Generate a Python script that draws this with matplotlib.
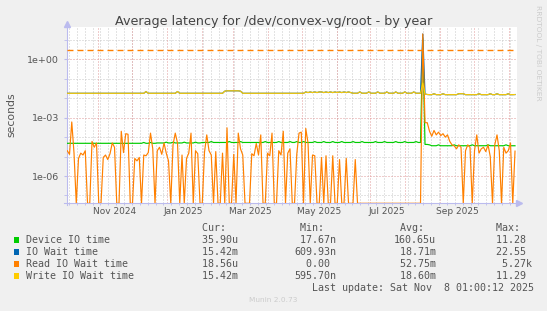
import numpy as np
import matplotlib
matplotlib.use("Agg")
import matplotlib.pyplot as plt
import matplotlib.dates as mdates
from matplotlib.ticker import LogLocator, FuncFormatter, NullFormatter
from matplotlib.patches import Rectangle

# one sample every 2 days, first at 2024-10-04 13:00
t = np.datetime64('2024-10-04T13:00') + np.arange(200) * np.timedelta64(2, 'D')

device_io = [
    4.8e-5, 4.8e-5, 4.8e-5, 4.8e-5, 4.8e-5, 4.8e-5, 4.8e-5, 4.8e-5, 4.8e-5, 4.8e-5,
    4.8e-5, 4.8e-5, 4.8e-5, 4.8e-5, 4.8e-5, 4.8e-5, 4.8e-5, 4.8e-5, 4.8e-5, 4.8e-5,
    4.8e-5, 4.8e-5, 4.8e-5, 4.8e-5, 4.8e-5, 4.8e-5, 4.8e-5, 4.8e-5, 4.8e-5, 4.8e-5,
    4.8e-5, 4.8e-5, 4.8e-5, 4.8e-5, 5.3e-5, 4.8e-5, 4.8e-5, 5.3e-5, 4.8e-5, 4.8e-5,
    5.0e-5, 5.0e-5, 5.0e-5, 5.0e-5, 5.5e-5, 5.0e-5, 5.0e-5, 5.5e-5, 5.0e-5, 5.0e-5,
    5.0e-5, 5.0e-5, 5.5e-5, 5.0e-5, 5.0e-5, 5.0e-5, 5.0e-5, 5.5e-5, 5.0e-5, 5.0e-5,
    5.3e-5, 5.3e-5, 5.3e-5, 5.3e-5, 5.9e-5, 5.3e-5, 5.3e-5, 5.3e-5, 5.3e-5, 5.3e-5,
    5.3e-5, 5.3e-5, 5.9e-5, 5.3e-5, 5.3e-5, 5.3e-5, 5.3e-5, 5.9e-5, 5.3e-5, 5.3e-5,
    5.3e-5, 5.3e-5, 5.3e-5, 5.3e-5, 5.3e-5, 5.3e-5, 5.3e-5, 5.3e-5, 5.9e-5, 5.3e-5,
    5.3e-5, 5.3e-5, 5.3e-5, 5.3e-5, 5.9e-5, 5.3e-5, 5.3e-5, 5.3e-5, 5.3e-5, 5.9e-5,
    5.3e-5, 5.3e-5, 5.9e-5, 5.3e-5, 5.3e-5, 5.9e-5, 5.3e-5, 5.3e-5, 5.3e-5, 5.3e-5,
    5.9e-5, 5.3e-5, 5.3e-5, 5.3e-5, 5.9e-5, 5.3e-5, 5.3e-5, 5.3e-5, 5.9e-5, 5.3e-5,
    5.3e-5, 5.3e-5, 5.9e-5, 5.3e-5, 5.3e-5, 5.3e-5, 5.3e-5, 5.9e-5, 5.3e-5, 5.3e-5,
    5.3e-5, 5.9e-5, 5.3e-5, 5.3e-5, 5.3e-5, 5.3e-5, 5.3e-5, 5.9e-5, 5.3e-5, 5.3e-5,
    5.3e-5, 5.9e-5, 5.3e-5, 5.3e-5, 5.3e-5, 5.3e-5, 5.9e-5, 5.3e-5, 5.3e-5, 5.3e-5,
    5.9e-5, 5.3e-5, 5.3e-5, 5.3e-5, 5.3e-5, 5.9e-5, 5.3e-5, 5.3e-5, 11.28, 4.2e-5,
    4.2e-5, 4.0e-5, 3.6e-5, 3.6e-5, 3.6e-5, 4.0e-5, 3.6e-5, 3.6e-5, 3.6e-5, 3.6e-5,
    3.6e-5, 3.6e-5, 4.0e-5, 3.6e-5, 3.6e-5, 3.6e-5, 3.6e-5, 3.6e-5, 3.6e-5, 3.6e-5,
    4.0e-5, 3.6e-5, 3.6e-5, 3.6e-5, 3.6e-5, 3.6e-5, 3.6e-5, 4.0e-5, 3.6e-5, 3.6e-5,
    3.6e-5, 3.6e-5, 3.6e-5, 3.6e-5, 3.6e-5, 4.0e-5, 3.6e-5, 3.6e-5, 3.6e-5, 3.59e-5,
]

io_wait = [
    0.0179, 0.0179, 0.0179, 0.0179, 0.0179, 0.0179, 0.0179, 0.0179, 0.0179, 0.0179,
    0.0179, 0.0179, 0.0179, 0.0179, 0.0179, 0.0179, 0.0179, 0.0179, 0.0179, 0.0179,
    0.0179, 0.0179, 0.0179, 0.0179, 0.0179, 0.0179, 0.0179, 0.0179, 0.0179, 0.0179,
    0.0179, 0.0179, 0.0179, 0.0179, 0.0179, 0.022, 0.0179, 0.0179, 0.0179, 0.0179,
    0.0179, 0.0179, 0.0179, 0.0179, 0.0179, 0.0179, 0.0179, 0.0179, 0.0179, 0.022,
    0.0179, 0.0179, 0.0179, 0.0179, 0.0179, 0.0179, 0.0179, 0.0179, 0.0179, 0.0179,
    0.0179, 0.0179, 0.0179, 0.0179, 0.0179, 0.0179, 0.0179, 0.0179, 0.0179, 0.0179,
    0.023, 0.024, 0.024, 0.024, 0.024, 0.024, 0.024, 0.023, 0.0179, 0.0179,
    0.0179, 0.0179, 0.0179, 0.0179, 0.0179, 0.0179, 0.0179, 0.0179, 0.0179, 0.0179,
    0.0179, 0.0179, 0.0179, 0.0179, 0.0179, 0.0179, 0.0179, 0.0179, 0.0179, 0.0179,
    0.0179, 0.0179, 0.0179, 0.0179, 0.0179, 0.0179, 0.021, 0.0195, 0.021, 0.0195,
    0.021, 0.0195, 0.021, 0.021, 0.0195, 0.021, 0.0195, 0.021, 0.0195, 0.021,
    0.0195, 0.021, 0.0195, 0.021, 0.0195, 0.021, 0.0195, 0.018, 0.018, 0.018,
    0.021, 0.018, 0.018, 0.018, 0.021, 0.018, 0.018, 0.018, 0.021, 0.018,
    0.018, 0.018, 0.021, 0.018, 0.018, 0.018, 0.021, 0.018, 0.018, 0.018,
    0.021, 0.018, 0.018, 0.018, 0.021, 0.018, 0.018, 0.018, 20.0, 0.0165,
    0.0155, 0.0152, 0.0152, 0.017, 0.0152, 0.0152, 0.0152, 0.017, 0.0152, 0.0152,
    0.0152, 0.0152, 0.0152, 0.0152, 0.017, 0.017, 0.017, 0.0152, 0.0152, 0.0152,
    0.0152, 0.0152, 0.0152, 0.017, 0.0152, 0.0152, 0.0152, 0.0152, 0.017, 0.0152,
    0.0152, 0.017, 0.0152, 0.0152, 0.0152, 0.0152, 0.017, 0.0152, 0.0152, 0.01542,
]

read_wait = [
    2.0e-5, 1.3e-5, 6.0e-4, 1.5e-5, 0, 8e-6, 1.5e-5, 1.2e-5, 2.0e-5, 0,
    0, 6e-5, 3e-5, 5e-5, 0, 0, 9e-6, 1.2e-5, 7e-6, 1.4e-5,
    5e-5, 3e-5, 0, 0, 2e-4, 1.6e-5, 1.5e-4, 1.4e-4, 0, 0,
    8e-6, 6e-6, 9e-6, 0, 1.2e-5, 1.1e-5, 1.6e-5, 1.6e-4, 2.5e-5, 0,
    2.0e-5, 3e-5, 1.3e-5, 5e-5, 1.5e-5, 6e-6, 0, 4e-5, 1.6e-4, 5e-5,
    0, 1.2e-5, 0, 8e-6, 1.5e-5, 1.6e-4, 0, 2e-5, 1.4e-5, 0,
    0, 1.7e-5, 1.3e-4, 2e-5, 1.2e-5, 0, 1.8e-5, 0, 0, 1.5e-5,
    0, 3e-4, 0, 0, 1.3e-5, 0, 1.6e-4, 2.5e-5, 1.2e-5, 0,
    0, 0, 1.4e-5, 1.1e-5, 4.7e-5, 1.2e-5, 1.3e-4, 0, 0, 1.5e-5,
    1.1e-5, 1.6e-4, 0, 0, 2e-5, 1.2e-5, 2e-4, 0, 1.5e-5, 2.5e-5,
    0, 0, 1.3e-5, 1.6e-4, 1.8e-4, 0, 2.8e-4, 5e-5, 0, 1.2e-5,
    1.1e-5, 0, 0, 9e-6, 0, 1.1e-5, 0, 0, 1.1e-5, 0,
    0, 7e-6, 0, 0, 8e-6, 0, 0, 0, 7e-6, 0,
    0, 0, 0, 0, 0, 0, 0, 0, 0, 0,
    0, 0, 0, 0, 0, 0, 0, 0, 0, 0,
    0, 0, 0, 0, 0, 0, 0, 0, 20.0, 5.5e-4,
    5.5e-4, 2e-4, 1.1e-4, 2.2e-4, 1.3e-4, 1.8e-4, 1.2e-4, 1.5e-4, 1e-4, 1.3e-4,
    6e-5, 4e-5, 3.5e-5, 2.5e-5, 4e-5, 3e-5, 0, 2e-5, 4e-5, 3e-5,
    0, 2e-5, 1.3e-4, 1.5e-5, 2.5e-5, 3e-5, 1.8e-5, 4e-5, 1e-5, 0,
    4e-5, 1.3e-4, 2e-5, 0, 3e-5, 1.5e-5, 2e-5, 5e-5, 0, 1.9e-5,
]

write_wait = [
    0.0179, 0.0179, 0.0179, 0.0179, 0.0179, 0.0179, 0.0179, 0.0179, 0.0179, 0.0179,
    0.0179, 0.0179, 0.0179, 0.0179, 0.0179, 0.0179, 0.0179, 0.0179, 0.0179, 0.0179,
    0.0179, 0.0179, 0.0179, 0.0179, 0.0179, 0.0179, 0.0179, 0.0179, 0.0179, 0.0179,
    0.0179, 0.0179, 0.0179, 0.0179, 0.0179, 0.022, 0.0179, 0.0179, 0.0179, 0.0179,
    0.0179, 0.0179, 0.0179, 0.0179, 0.0179, 0.0179, 0.0179, 0.0179, 0.0179, 0.022,
    0.0179, 0.0179, 0.0179, 0.0179, 0.0179, 0.0179, 0.0179, 0.0179, 0.0179, 0.0179,
    0.0179, 0.0179, 0.0179, 0.0179, 0.0179, 0.0179, 0.0179, 0.0179, 0.0179, 0.0179,
    0.023, 0.024, 0.024, 0.024, 0.024, 0.024, 0.024, 0.023, 0.0179, 0.0179,
    0.0179, 0.0179, 0.0179, 0.0179, 0.0179, 0.0179, 0.0179, 0.0179, 0.0179, 0.0179,
    0.0179, 0.0179, 0.0179, 0.0179, 0.0179, 0.0179, 0.0179, 0.0179, 0.0179, 0.0179,
    0.0179, 0.0179, 0.0179, 0.0179, 0.0179, 0.0179, 0.021, 0.0195, 0.021, 0.0195,
    0.021, 0.0195, 0.021, 0.021, 0.0195, 0.021, 0.0195, 0.021, 0.0195, 0.021,
    0.0195, 0.021, 0.0195, 0.021, 0.0195, 0.021, 0.0195, 0.018, 0.018, 0.018,
    0.021, 0.018, 0.018, 0.018, 0.021, 0.018, 0.018, 0.018, 0.021, 0.018,
    0.018, 0.018, 0.021, 0.018, 0.018, 0.018, 0.021, 0.018, 0.018, 0.018,
    0.021, 0.018, 0.018, 0.018, 0.021, 0.018, 0.018, 0.018, 0.06, 0.0165,
    0.0155, 0.0152, 0.0152, 0.017, 0.0152, 0.0152, 0.0152, 0.017, 0.0152, 0.0152,
    0.0152, 0.0152, 0.0152, 0.0152, 0.017, 0.017, 0.017, 0.0152, 0.0152, 0.0152,
    0.0152, 0.0152, 0.0152, 0.017, 0.0152, 0.0152, 0.0152, 0.0152, 0.017, 0.0152,
    0.0152, 0.017, 0.0152, 0.0152, 0.0152, 0.0152, 0.017, 0.0152, 0.0152, 0.01542,
]

warn_level = 3.0

names = ["Device IO time", "IO Wait time", "Read IO Wait time", "Write IO Wait time"]
colors = ["#00cc00", "#0066b3", "#ff8000", "#ffcc00"]
cur = ["35.90u", "15.42m", "18.56u", "15.42m"]
mins = ["17.67n", "609.93n", "0.00", "595.70n"]
avgs = ["160.65u", "18.71m", "52.75m", "18.60m"]
maxs = ["11.28", "22.55", "5.27k", "11.29"]

W, H = 547, 311
ymin, ymax = 3.95e-8, 44.2
text_c = "#555555"
axis_c = "#bbbbee"
grid_c = "#c8c8c8"
mgrid_c = "#e09a9a"

fig = plt.figure(figsize=(W / 100, H / 100), dpi=100, facecolor="#f0f0f0")
ax = fig.add_axes([66.7 / W, 1 - 203.3 / H, 450 / W, 176 / H])
ax.set_facecolor("white")

for vals, c in zip([device_io, io_wait, read_wait, write_wait], colors):
    ax.plot(t, np.maximum(vals, ymin), color=c, lw=0.85, zorder=3)
ax.axhline(warn_level, color="#ff8000", lw=1.0, dashes=(4.3, 2.9), zorder=3)

ax.set_yscale("log")
ax.set_ylim(ymin, ymax)
ax.set_xlim(np.datetime64("2024-10-04T01:00"), np.datetime64("2025-11-08T01:00"))

# y grid: decades gray, every 3 decades red
ax.yaxis.set_major_locator(LogLocator(base=1000, numticks=10))
ax.yaxis.set_minor_locator(LogLocator(base=10, subs=(1.0,), numticks=30))
ax.yaxis.set_major_formatter(FuncFormatter(lambda v, p: f"{v:.0e}"))
ax.yaxis.set_minor_formatter(NullFormatter())

# x: weekly gray grid, monthly red lines, labels centred in every other month
ax.xaxis.remove_overlapping_locs = False
ax.xaxis.set_minor_locator(mdates.WeekdayLocator(byweekday=mdates.SU))
ax.xaxis.set_major_locator(mdates.MonthLocator(bymonth=(1, 3, 5, 7, 9, 11), bymonthday=16))
ax.xaxis.set_major_formatter(mdates.DateFormatter("%b %Y"))
ax.xaxis.set_minor_formatter(NullFormatter())

dots = (0, (1, 2))
ax.set_axisbelow(True)
ax.grid(which="minor", axis="both", color=grid_c, lw=0.72, linestyle=dots)
ax.grid(which="major", axis="y", color=mgrid_c, lw=0.72, linestyle=dots)
x0, x1 = ax.get_xlim()
for m in mdates.MonthLocator().tick_values(mdates.num2date(x0), mdates.num2date(x1)):
    if x0 < m < x1:
        ax.axvline(m, color=mgrid_c, lw=0.72, linestyle=dots, zorder=0.6)

ax.tick_params(axis="y", which="both", length=2, color=axis_c, labelsize=6.8,
               labelcolor=text_c, pad=3.4)
ax.tick_params(axis="x", which="major", length=0, labelsize=6.5, labelcolor=text_c, pad=3)
ax.tick_params(axis="x", which="minor", length=1.5, color=axis_c)

for s in ax.spines.values():
    s.set_visible(False)
ax.plot([0, 0], [-0.01, 1.01], transform=ax.transAxes, clip_on=False, color=axis_c, lw=0.8)
ax.plot([0], [1.02], transform=ax.transAxes, clip_on=False, color=axis_c, marker="^", ms=4)
ax.plot([-0.006, 1.0], [0, 0], transform=ax.transAxes, clip_on=False, color=axis_c, lw=0.8)
ax.plot([1.006], [0], transform=ax.transAxes, clip_on=False, color=axis_c, marker=">", ms=4)

fig.text(11 / W, 1 - 115 / H, "seconds", rotation=90, ha="center", va="center",
         fontsize=7.8, color=text_c)
fig.text(0.5, 1 - 24.5 / H, "Average latency for /dev/convex-vg/root - by year",
         ha="center", va="baseline", fontsize=9.2, color="#444444")
fig.text(537.7 / W, 1 - 5 / H, "RRDTOOL / TOBI OETIKER", rotation=270, ha="center",
         va="top", fontsize=5.4, color="#cccccc")

# legend block
mono = dict(family="DejaVu Sans Mono", fontsize=7.2, color=text_c, va="baseline", ha="left")
cols = [196.4, 294.1, 393.6, 490.5]


def field(s):
    if s[-1].isalpha():
        return f"{s[:-1]:>6}{s[-1]}"
    return f"{s:>6}"


for x, head in zip(cols, ["Cur:", "Min:", "Avg:", "Max:"]):
    fig.text(x / W, 1 - 231 / H, " " + head, **mono)
for i, name in enumerate(names):
    base = 243 + 12 * i
    fig.add_artist(Rectangle((14 / W, 1 - (base - 0.3) / H), 5.3 / W, 5.3 / H,
                             transform=fig.transFigure, color=colors[i], lw=0))
    fig.text(26.3 / W, 1 - base / H, name, **mono)
    for x, vals in zip(cols, [cur, mins, avgs, maxs]):
        fig.text(x / W, 1 - base / H, field(vals[i]), **mono)
fig.text(311.6 / W, 1 - 291 / H, "Last update: Sat Nov  8 01:00:12 2025", **mono)
fig.text(272.8 / W, 1 - 302 / H, "Munin 2.0.73", ha="center", va="baseline",
         fontsize=5.3, color="#cccccc")

fig.savefig("out.png", dpi=100, facecolor=fig.get_facecolor())
